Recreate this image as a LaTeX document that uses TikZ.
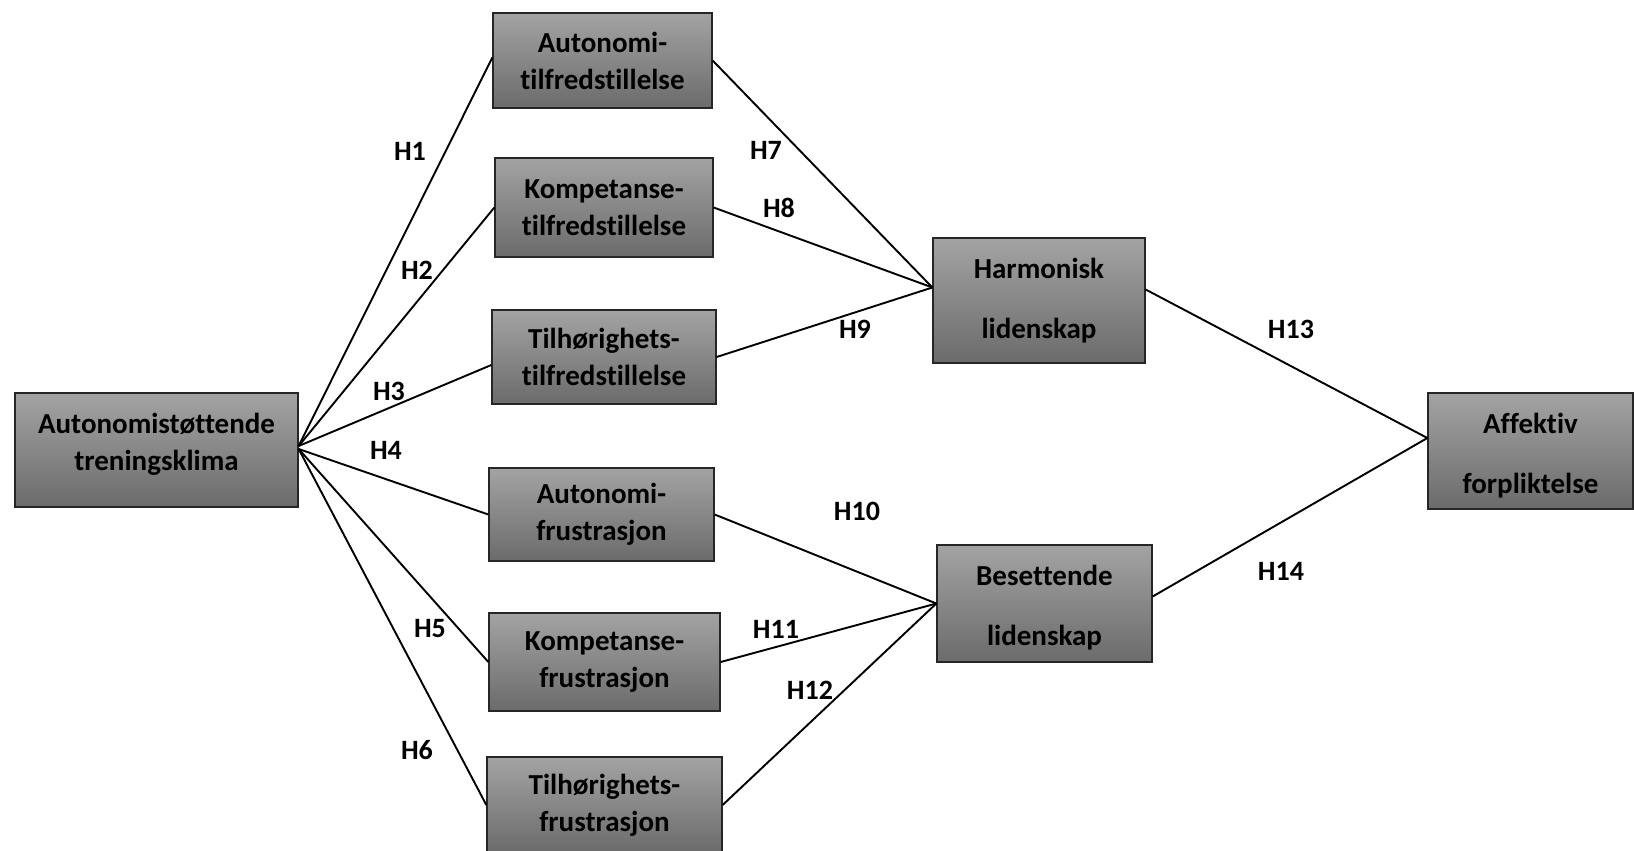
\documentclass[tikz,border=0pt]{standalone}
\usepackage{fontspec}
\setmainfont[Ligatures={NoCommon}]{Carlito}
\usetikzlibrary{calc}
\tikzset{
  box/.style={draw=black!85, line width=1.3pt, top color=black!36, bottom color=black!58,
    shading angle=0, inner sep=0pt, align=center, font=\bfseries\fontsize{29}{37}\selectfont},
  widebox/.style={box, font=\bfseries\fontsize{29}{60}\selectfont},
  hlab/.style={font=\bfseries\fontsize{28}{34}\selectfont, inner sep=0pt},
  conn/.style={line width=1.9pt, black}
}
\begin{document}
\begin{tikzpicture}[x=1pt, y=-1pt]
\useasboundingbox (0,0) rectangle (1634,851);
\node[box, minimum width=283pt, minimum height=114pt] (A) at (156.5,450) {Autonomistøttende\\treningsklima\rule[-16pt]{0pt}{0pt}};
\node[box, minimum width=219pt, minimum height=95pt] (B1) at (602.5,60.5) {Autonomi-\\tilfredstillelse};
\node[box, minimum width=218pt, minimum height=99pt] (B2) at (604,207.5) {Kompetanse-\\tilfredstillelse};
\node[box, minimum width=224pt, minimum height=94pt] (B3) at (604,357) {Tilhørighets-\\tilfredstillelse};
\node[box, minimum width=225pt, minimum height=93pt] (B4) at (601.5,514.5) {Autonomi-\\frustrasjon};
\node[box, minimum width=231pt, minimum height=98pt] (B5) at (604.5,662) {Kompetanse-\\frustrasjon};
\node[box, minimum width=235pt, minimum height=96pt] (B6) at (604.5,805) {Tilhørighets-\\frustrasjon};
\node[widebox, minimum width=212pt, minimum height=125pt] (H) at (1039,300.5) {Harmonisk\\lidenskap};
\node[widebox, minimum width=215pt, minimum height=117pt] (Bs) at (1044.5,603.5) {\rule{0pt}{28pt}Besettende\\lidenskap};
\node[widebox, minimum width=205pt, minimum height=116pt] (Af) at (1530.5,451) {\rule{0pt}{30pt}Affektiv\\forpliktelse};

\coordinate (Aup) at ($(A.east)+(0,-4)$);
\coordinate (Adn) at ($(A.east)+(0,-1)$);
\coordinate (Hw) at ($(H.west)+(0,-13)$);
\coordinate (He) at ($(H.east)+(0,-11)$);
\coordinate (Afw) at ($(Af.west)+(0,-13)$);
\coordinate (Bse) at ($(Bs.east)+(0,-7)$);

\draw[conn] (Aup) -- ($(B1.west)+(0,-3)$);
\draw[conn] (Aup) -- (B2.west);
\draw[conn] (Aup) -- ($(B3.west)+(0,8)$);
\draw[conn] (Adn) -- (B4.west);
\draw[conn] (Adn) -- (B5.west);
\draw[conn] (Adn) -- (B6.west);
\draw[conn] (B1.east) -- (Hw);
\draw[conn] (B2.east) -- (Hw);
\draw[conn] (B3.east) -- (Hw);
\draw[conn] (B4.east) -- (Bs.west);
\draw[conn] (B5.east) -- (Bs.west);
\draw[conn] (B6.east) -- (Bs.west);
\draw[conn] (He) -- (Afw);
\draw[conn] (Bse) -- (Afw);

\node[hlab] (h1) at (410,151) {H1};
\node[hlab] (h2) at (417,270) {H2};
\node[hlab] (h3) at (389,391) {H3};
\node[hlab] (h4) at (386,450) {H4};
\node[hlab] (h5) at (430,629) {H5};
\node[hlab] (h6) at (417,750) {H6};
\node[hlab] (h7) at (766,150) {H7};
\node[hlab] (h8) at (779,208) {H8};
\node[hlab] (h9) at (855,329) {H9};
\node[hlab] (h10) at (857,511) {H10};
\node[hlab] (h11) at (776,629) {H11};
\node[hlab] (h12) at (810,690) {H12};
\node[hlab] (h13) at (1291,329) {H13};
\node[hlab] (h14) at (1281,571) {H14};
\end{tikzpicture}
\end{document}
